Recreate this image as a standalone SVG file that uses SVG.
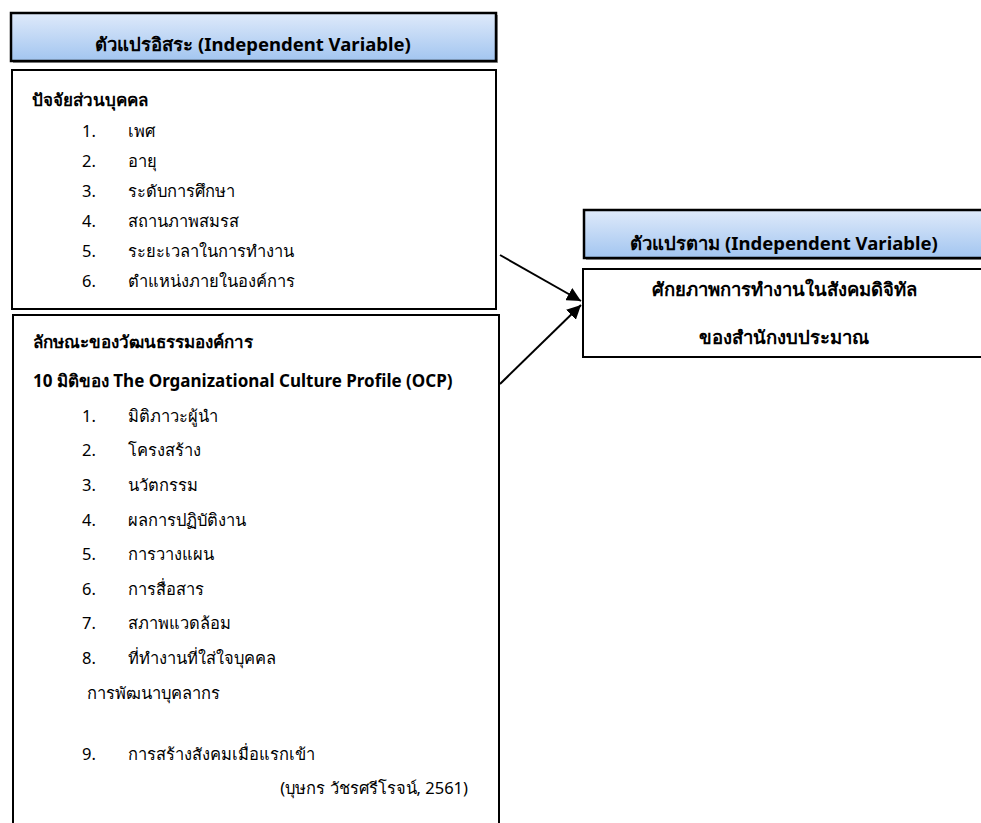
<svg xmlns="http://www.w3.org/2000/svg" width="981" height="823" viewBox="0 0 981 823">
<defs>
<linearGradient id="hdr" x1="0" y1="0" x2="0" y2="1">
<stop offset="0" stop-color="#dfeafa"/>
<stop offset="1" stop-color="#a2c5f0"/>
</linearGradient>
<marker id="ah" viewBox="0 0 10 10" refX="10" refY="5" markerWidth="7" markerHeight="7" markerUnits="strokeWidth" orient="auto">
<path d="M0,0 L10,5 L0,10 z" fill="#000"/>
</marker>
<style>
text{font-family:"Noto Sans","Liberation Sans",sans-serif;fill:#000;}
.h{font-weight:bold;font-size:18.5px;}
.b{font-weight:bold;font-size:17px;}
.n{font-size:16.5px;}
.hdr{fill:url(#hdr);stroke:#000;stroke-width:2.5;}
.box{fill:#fff;stroke:#000;stroke-width:2;}
.shadow{fill:#9a9a9a;}
.conn{stroke:#000;stroke-width:2;fill:none;marker-end:url(#ah);}
</style>
</defs>
<rect width="981" height="823" fill="#fff"/>

<g id="independent-header">
<rect class="shadow" x="13" y="15" width="485" height="48"/>
<rect class="hdr" x="11" y="13" width="485" height="48"/>
<text class="h" x="253" y="51" text-anchor="middle">ตัวแปรอิสระ (Independent Variable)</text>
</g>

<g id="personal-factors">
<rect class="box" x="12" y="70" width="484" height="239"/>
<text class="b" x="32" y="106">ปัจจัยส่วนบุคคล</text>
<text class="n" x="82" y="137">1.</text><text class="n" x="128" y="137">เพศ</text>
<text class="n" x="82" y="167">2.</text><text class="n" x="128" y="167">อายุ</text>
<text class="n" x="82" y="197">3.</text><text class="n" x="128" y="197">ระดับการศึกษา</text>
<text class="n" x="82" y="227">4.</text><text class="n" x="128" y="227">สถานภาพสมรส</text>
<text class="n" x="82" y="257">5.</text><text class="n" x="128" y="257">ระยะเวลาในการทำงาน</text>
<text class="n" x="82" y="287">6.</text><text class="n" x="128" y="287">ตำแหน่งภายในองค์การ</text>
</g>

<g id="org-culture">
<rect class="box" x="13" y="315" width="486" height="520"/>
<text class="b" x="33" y="348">ลักษณะของวัฒนธรรมองค์การ</text>
<text class="b" x="33" y="387">10 มิติของ The Organizational Culture Profile (OCP)</text>
<text class="n" x="82" y="422">1.</text><text class="n" x="128" y="422">มิติภาวะผู้นำ</text>
<text class="n" x="82" y="456">2.</text><text class="n" x="128" y="456">โครงสร้าง</text>
<text class="n" x="82" y="491">3.</text><text class="n" x="128" y="491">นวัตกรรม</text>
<text class="n" x="82" y="526">4.</text><text class="n" x="128" y="526">ผลการปฏิบัติงาน</text>
<text class="n" x="82" y="560">5.</text><text class="n" x="128" y="560">การวางแผน</text>
<text class="n" x="82" y="595">6.</text><text class="n" x="128" y="595">การสื่อสาร</text>
<text class="n" x="82" y="629">7.</text><text class="n" x="128" y="629">สภาพแวดล้อม</text>
<text class="n" x="82" y="664">8.</text><text class="n" x="128" y="664">ที่ทำงานที่ใส่ใจบุคคล</text>
<text class="n" x="87" y="699">การพัฒนาบุคลากร</text>
<text class="n" x="82" y="760">9.</text><text class="n" x="128" y="760">การสร้างสังคมเมื่อแรกเข้า</text>
<text class="n" x="468" y="794" text-anchor="end">(บุษกร วัชรศรีโรจน์, 2561)</text>
</g>

<g id="dependent-header">
<rect class="shadow" x="586" y="212" width="400" height="48"/>
<rect class="hdr" x="584" y="210" width="400" height="48"/>
<text class="h" x="784" y="250" text-anchor="middle">ตัวแปรตาม (Independent Variable)</text>
</g>

<g id="dependent-box">
<rect class="box" x="583" y="269" width="402" height="88"/>
<text class="h" x="784" y="296" text-anchor="middle">ศักยภาพการทำงานในสังคมดิจิทัล</text>
<text class="h" x="784" y="344" text-anchor="middle">ของสำนักงบประมาณ</text>
</g>

<g id="connectors">
<line class="conn" x1="500" y1="255" x2="581" y2="301"/>
<line class="conn" x1="500" y1="384" x2="581" y2="305"/>
</g>
</svg>
